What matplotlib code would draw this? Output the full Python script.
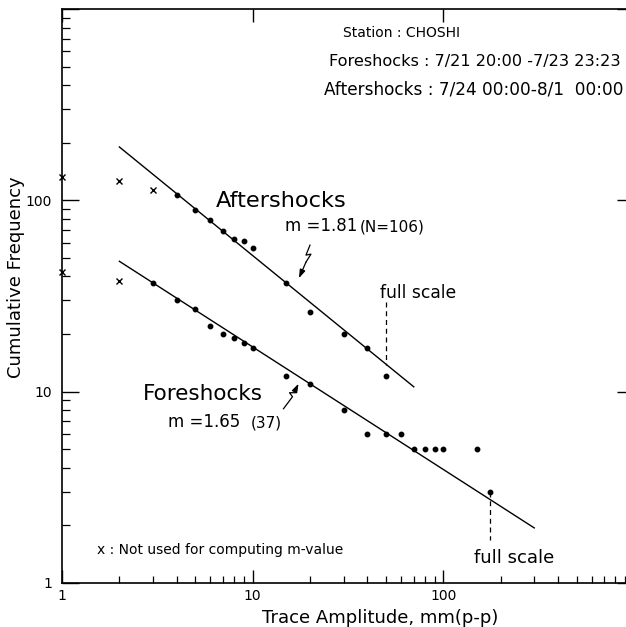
"""Cumulative amplitude-frequency plot, CHOSHI station (fore- and aftershocks)."""

import matplotlib
matplotlib.use("Agg")
import matplotlib.pyplot as plt
import matplotlib.transforms as mtransforms
from matplotlib.ticker import FixedLocator, FixedFormatter, LogLocator, NullFormatter

DPI = 100
PX = 72.0 / DPI  # points per pixel

# ---- aftershocks ----
after_x = [4, 5, 6, 7, 8, 9, 10, 15, 20, 30, 40, 50]
after_y = [106, 89, 79, 69, 63, 61, 56, 37, 26, 20, 17, 12]
after_x_unused = [1, 2, 3]
after_y_unused = [133, 126, 113]
after_fit_x = [2, 70]
after_fit_y = [190, 10.6]
after_full_x = [50, 50]
after_full_y = [29.3, 13.7]

# ---- foreshocks ----
fore_x = [3, 4, 5, 6, 7, 8, 9, 10, 15, 20, 30, 40, 50, 60, 70, 80, 90, 100, 150, 175]
fore_y = [37, 30, 27, 22, 20, 19, 18, 17, 12, 11, 8, 6, 6, 6, 5, 5, 5, 5, 5, 3]
fore_x_unused = [1, 2]
fore_y_unused = [42, 38]
fore_fit_x = [2, 300]
fore_fit_y = [48, 1.94]
fore_full_x = [175, 175]
fore_full_y = [3, 1.68]

x_ticks = [1, 10, 100, 1000]
x_ticklabels = ["1", "10", "100", ""]
y_ticks = [1, 10, 100, 1000]
y_ticklabels = ["1", "10", "100", ""]

FONT = "DejaVu Sans"


def pointer(ax, tip, path_px):
    """Zig-zag leader ending in a filled arrow head at `tip` (data coords).
    path_px: offsets from the tip in pixels (x right, y up)."""
    trans = mtransforms.IdentityTransform() + mtransforms.ScaledTranslation(tip[0], tip[1], ax.transData)
    xs = [p[0] for p in path_px]
    ys = [p[1] for p in path_px]
    ax.plot(xs, ys, color="black", lw=0.9, transform=trans, clip_on=False)
    last = path_px[-1]
    ax.annotate("", xy=tip, xycoords="data",
                xytext=(last[0] * PX, last[1] * PX), textcoords="offset points",
                arrowprops=dict(arrowstyle="-|>,head_length=0.5,head_width=0.17",
                                color="black", lw=0.9, shrinkA=0, shrinkB=0))


def main():
    plt.rcParams["font.family"] = [FONT]
    fig = plt.figure(figsize=(6.26, 6.27), dpi=DPI)
    ax = fig.add_axes([0.099, 0.0702, 0.9137, 0.9155])
    ax.set_xscale("log")
    ax.set_yscale("log")
    ax.set_xlim(1, 1000)
    ax.set_ylim(1, 1000)

    # fitted lines
    ax.plot(after_fit_x, after_fit_y, color="black", lw=1.0)
    ax.plot(fore_fit_x, fore_fit_y, color="black", lw=1.0)

    # data
    ax.plot(after_x, after_y, "o", color="black", ms=3.2)
    ax.plot(fore_x, fore_y, "o", color="black", ms=3.2)
    ax.plot(after_x_unused, after_y_unused, "x", color="black", ms=4.5, mew=1.0, clip_on=False)
    ax.plot(fore_x_unused, fore_y_unused, "x", color="black", ms=4.5, mew=1.0, clip_on=False)

    # full-scale markers
    ax.plot(after_full_x, after_full_y, color="black", lw=0.9, ls=(0, (4, 3)))
    ax.plot(fore_full_x, fore_full_y, color="black", lw=0.9, ls=(0, (4, 3)))
    ax.text(46.7, 30.8, "full scale", fontsize=12.3, ha="left", va="baseline")
    ax.text(145, 1.27, "full scale", fontsize=13, ha="left", va="baseline")

    # curve labels
    ax.text(6.43, 91.9, "Aftershocks", fontsize=16.2, ha="left", va="baseline")
    ax.text(14.8, 68.9, "m =1.81", fontsize=12, ha="left", va="baseline")
    ax.text(36.5, 68.9, "(N=106)", fontsize=11, ha="left", va="baseline")
    ax.text(2.66, 9.03, "Foreshocks", fontsize=15.5, ha="left", va="baseline")
    ax.text(3.60, 6.53, "m =1.65", fontsize=12, ha="left", va="baseline")
    ax.text(9.82, 6.53, "(37)", fontsize=11, ha="left", va="baseline")

    pointer(ax, (17.5, 39.2), [(11, 33), (7, 23), (12, 24), (7, 16)])
    pointer(ax, (17.4, 11.0), [(-15, -25), (-6, -13), (-9, -9), (-3, -9), (-3, -6)])

    # header block
    ax.text(0.491, 0.958, "Station : CHOSHI", transform=ax.transAxes,
            fontsize=10, ha="left", va="center")
    ax.text(0.467, 0.908, "Foreshocks : 7/21 20:00 -7/23 23:23", transform=ax.transAxes,
            fontsize=11.6, ha="left", va="center")
    ax.text(0.458, 0.859, "Aftershocks : 7/24 00:00-8/1  00:00", transform=ax.transAxes,
            fontsize=12.2, ha="left", va="center")
    ax.text(0.061, 0.0575, "x : Not used for computing m-value", transform=ax.transAxes,
            fontsize=10, ha="left", va="center")

    # axes styling
    for side in ("left", "bottom", "top", "right"):
        ax.spines[side].set_linewidth(1.2)
    ax.xaxis.set_major_locator(FixedLocator(x_ticks))
    ax.xaxis.set_major_formatter(FixedFormatter(x_ticklabels))
    ax.yaxis.set_major_locator(FixedLocator(y_ticks))
    ax.yaxis.set_major_formatter(FixedFormatter(y_ticklabels))
    ax.xaxis.set_minor_locator(LogLocator(base=10, subs=range(2, 10)))
    ax.yaxis.set_minor_locator(LogLocator(base=10, subs=range(2, 10)))
    ax.xaxis.set_minor_formatter(NullFormatter())
    ax.yaxis.set_minor_formatter(NullFormatter())
    ax.tick_params(axis="x", which="major", direction="in", length=9.5, width=1.0,
                   pad=4, labelsize=10, top=True)
    ax.tick_params(axis="x", which="minor", direction="in", length=5, width=0.9, top=False)
    ax.tick_params(axis="y", which="major", direction="in", length=12, width=1.0,
                   pad=7, labelsize=10, right=True)
    ax.tick_params(axis="y", which="minor", direction="in", length=5.5, width=0.9, right=False)

    ax.set_xlabel("Trace Amplitude, mm(p-p)", fontsize=13)
    ax.xaxis.set_label_coords(0.556, -0.045)
    ax.set_ylabel("Cumulative Frequency", fontsize=13)
    ax.yaxis.set_label_coords(-0.064, 0.533)

    fig.savefig("out.png", dpi=DPI)
    plt.close(fig)


if __name__ == "__main__":
    main()
